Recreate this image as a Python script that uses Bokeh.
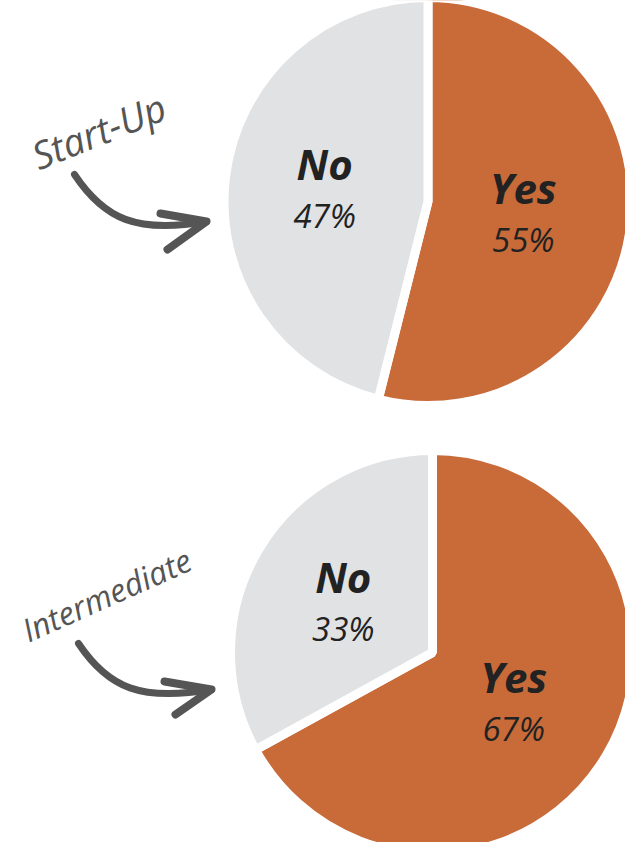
import numpy as np
from bokeh.plotting import figure
from bokeh.models import Range1d
from bokeh.core.properties import value
from bokeh.embed import file_html
from bokeh.resources import INLINE

# ---- data ----
groups = ["Start-Up", "Intermediate"]
categories = ["Yes", "No"]
startup_values = [55, 47]
intermediate_values = [67, 33]
colors = ["#c96a39", "#e1e2e4"]

W, H = 625, 842
# data coordinates: x = image px, y = 858 - image px
p = figure(width=W, height=H, output_backend="svg", toolbar_location=None,
           x_range=Range1d(8, 633), y_range=Range1d(8, 850),
           min_border=0, outline_line_color=None)
p.axis.visible = False
p.grid.visible = False
p.background_fill_color = "white"
p.border_fill_color = "white"

def Y(img_y):
    return 858 - img_y

pies = [
    (groups[0], startup_values, 435.5, Y(209), 204),
    (groups[1], intermediate_values, 440, Y(660), 202),
]

for name, vals, cx, cy, r in pies:
    vals = np.array(vals, dtype=float)
    frac = vals / vals.sum()
    cum = np.concatenate([[0], np.cumsum(frac)])
    starts = np.pi / 2 - 2 * np.pi * cum[:-1]
    ends = np.pi / 2 - 2 * np.pi * cum[1:]
    p.wedge(x=[cx] * len(vals), y=[cy] * len(vals), radius=r,
            start_angle=list(starts), end_angle=list(ends), direction="clock",
            fill_color=colors, line_color="white", line_width=9)
    mids = (starts + ends) / 2
    lr = 0.5 * (r - 4)
    for cat, v, m in zip(categories, vals, mids):
        lx = cx + lr * np.cos(m) - 4
        ly = cy + lr * np.sin(m)
        p.text(x=[lx], y=[ly + 26], text=[cat], text_align="center",
               text_baseline="middle", text_font=value("Open Sans"),
               text_font_style="bold italic", text_font_size="42px",
               text_color="#222222")
        p.text(x=[lx], y=[ly - 26], text=[f"{int(v)}%"], text_align="center",
               text_baseline="middle", text_font=value("Open Sans"),
               text_font_style="italic", text_font_size="33px",
               text_color="#222222")

# group labels (rotated, handwritten style)
p.text(x=[106], y=[Y(138)], text=[groups[0]], angle=0.38, text_align="center",
       text_baseline="middle", text_font=value("Open Sans"),
       text_font_style="italic", text_font_size="38px", text_color="#555555")
p.text(x=[114], y=[Y(602)], text=[groups[1]], angle=0.42, text_align="center",
       text_baseline="middle", text_font=value("Open Sans"),
       text_font_style="italic", text_font_size="32px", text_color="#555555")

# curved arrows
arrow_col = "#555555"
for (sx, sy, tx, ty, ax, ay, bx, by) in [
    (82, 182, 214, 229, 168, 221, 175, 257),
    (86, 651, 219, 697, 172, 689, 183, 722),
]:
    p.bezier(x0=[sx], y0=[Y(sy)], x1=[tx], y1=[Y(ty)],
             cx0=[sx + 30], cy0=[Y(sy + 45)], cx1=[tx - 70], cy1=[Y(ty + 12)],
             line_color=arrow_col, line_width=7, line_cap="round")
    p.line(x=[ax, tx, bx], y=[Y(ay), Y(ty), Y(by)], line_color=arrow_col,
           line_width=8, line_cap="round", line_join="round")

open("out.html", "w").write(file_html(p, INLINE))
